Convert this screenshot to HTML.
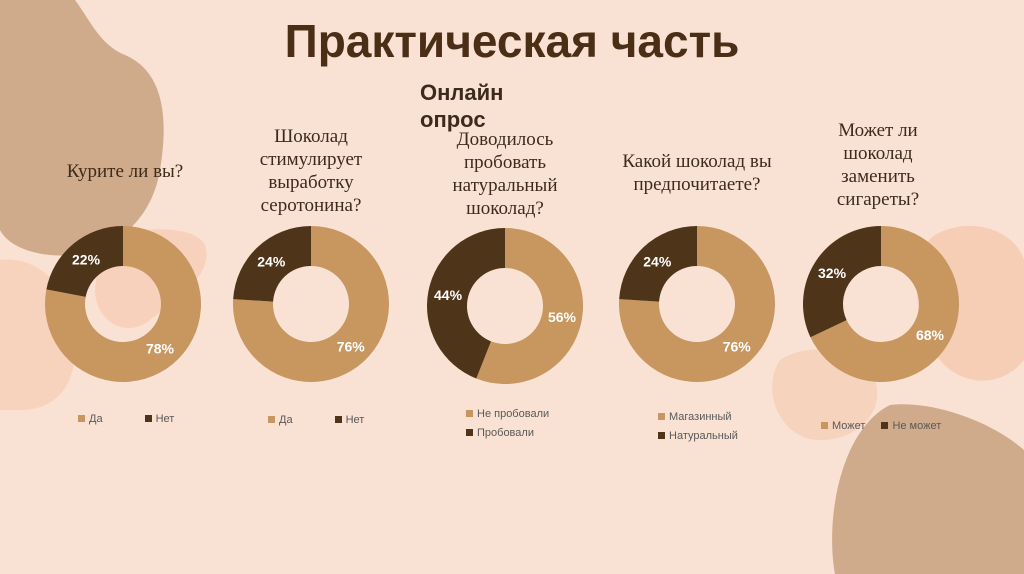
<!DOCTYPE html>
<html><head><meta charset="utf-8">
<style>
body{margin:0;width:1024px;height:574px;overflow:hidden;background:#f9e2d4;font-family:"Liberation Sans",sans-serif;}
#root{position:relative;width:1024px;height:574px;}
.t{position:absolute;font-family:"Liberation Serif","Noto Serif CJK SC",serif;color:#3e2a18;font-size:19px;text-align:center;line-height:23px;}
.lg{position:absolute;font-size:11px;color:#595959;white-space:nowrap;}
.sq{display:inline-block;width:7px;height:7px;margin-right:4px;vertical-align:0px;}
</style></head><body>
<div id="root">
<svg width="1024" height="574" style="position:absolute;left:0;top:0">
<path d="M0,0 L75,0 C90,20 100,45 125,55 C160,70 170,110 160,170 C150,230 100,260 50,255 C20,252 5,240 0,230 Z" fill="#cfab8c"/>
<path d="M100,240 C140,225 195,225 205,245 C215,275 175,300 150,320 C125,340 95,320 95,290 Z" fill="#f6cdb5" opacity="0.8"/>
<path d="M0,260 C40,255 70,290 75,330 C80,380 60,410 20,410 L0,410 Z" fill="#f7d2bc"/>
<path d="M935,235 C970,215 1015,230 1024,260 L1024,360 C1000,390 960,385 940,360 C915,330 905,255 935,235 Z" fill="#f6cdb5"/>
<path d="M780,360 C810,340 860,350 875,380 C885,410 860,440 820,440 C780,440 760,390 780,360 Z" fill="#f6d3bd"/>
<path d="M890,405 C930,400 990,420 1024,450 L1024,574 L835,574 C825,520 840,430 890,405 Z" fill="#cfab8c"/>
</svg>
<div style="position:absolute;left:0;top:14px;width:1024px;text-align:center;font-size:46px;font-weight:bold;color:#4a2e16">Практическая часть</div>
<div style="position:absolute;left:420px;top:79px;font-size:22px;font-weight:bold;color:#3e2a18;line-height:27px">Онлайн<br>опрос</div>
<div class="t" style="left:40px;top:160px;width:170px">Курите ли вы?</div>
<div class="t" style="left:226px;top:125px;width:170px">Шоколад<br>стимулирует<br>выработку<br>серотонина?</div>
<div class="t" style="left:420px;top:128px;width:170px">Доводилось<br>пробовать<br>натуральный<br>шоколад?</div>
<div class="t" style="left:612px;top:150px;width:170px">Какой шоколад вы<br>предпочитаете?</div>
<div class="t" style="left:793px;top:119px;width:170px">Может ли<br>шоколад<br>заменить<br>сигареты?</div>
<svg id="ch" width="1024" height="574" style="position:absolute;left:0;top:0"></svg>
<div class="lg" style="left:78px;top:413px"><span class="sq" style="background:#c8965f"></span>Да<span style="display:inline-block;width:42px"></span><span class="sq" style="background:#4e3418"></span>Нет</div>
<div class="lg" style="left:268px;top:414px"><span class="sq" style="background:#c8965f"></span>Да<span style="display:inline-block;width:42px"></span><span class="sq" style="background:#4e3418"></span>Нет</div>
<div class="lg" style="left:466px;top:405px;line-height:19px"><span class="sq" style="background:#c8965f"></span>Не пробовали<br><span class="sq" style="background:#4e3418"></span>Пробовали</div>
<div class="lg" style="left:658px;top:408px;line-height:19px"><span class="sq" style="background:#c8965f"></span>Магазинный<br><span class="sq" style="background:#4e3418"></span>Натуральный</div>
<div class="lg" style="left:821px;top:420px"><span class="sq" style="background:#c8965f"></span>Может<span style="display:inline-block;width:16px"></span><span class="sq" style="background:#4e3418"></span>Не может</div>
</div>
<script>
const chartIds=['smoke','serotonin','natural','prefer','replace'];
const lightValues=[78,76,56,76,68];
const darkValues=[22,24,44,24,32];
const centersX=[123,311,505,697,881];
const centersY=[304,304,306,304,304];
const R=78, r=38;
const svg=document.getElementById('ch');
const NS='http://www.w3.org/2000/svg';
function pt(cx,cy,rad,frac){const a=frac*2*Math.PI;return [cx+rad*Math.sin(a),cy-rad*Math.cos(a)];}
function arc(cx,cy,f0,f1){
 const large=(f1-f0)>0.5?1:0;
 const a=pt(cx,cy,R,f0),b=pt(cx,cy,R,f1),c=pt(cx,cy,r,f1),d=pt(cx,cy,r,f0);
 return `M${a[0]},${a[1]} A${R},${R} 0 ${large} 1 ${b[0]},${b[1]} L${c[0]},${c[1]} A${r},${r} 0 ${large} 0 ${d[0]},${d[1]} Z`;
}
chartIds.forEach((id,i)=>{
 const cx=centersX[i],cy=centersY[i];
 const tot=lightValues[i]+darkValues[i];
 const segs=[[0,lightValues[i]/tot,'#c8965f',lightValues[i],'light'],[lightValues[i]/tot,1,'#4e3418',darkValues[i],'dark']];
 segs.forEach(s=>{
  const p=document.createElementNS(NS,'path');
  p.setAttribute('d',arc(cx,cy,s[0],s[1]));
  p.setAttribute('fill',s[2]);
  
  
  svg.appendChild(p);
  const m=pt(cx,cy,(R+r)/2,(s[0]+s[1])/2);
  const t=document.createElementNS(NS,'text');
  t.setAttribute('x',m[0]);t.setAttribute('y',m[1]+5);
  t.setAttribute('text-anchor','middle');
  t.setAttribute('fill','#fff');t.setAttribute('font-size','14');t.setAttribute('font-weight','bold');
  t.setAttribute('font-family','Liberation Sans, sans-serif');
  t.textContent=s[3]+'%';
  
  
  svg.appendChild(t);
 });
});
</script>
</body></html>
